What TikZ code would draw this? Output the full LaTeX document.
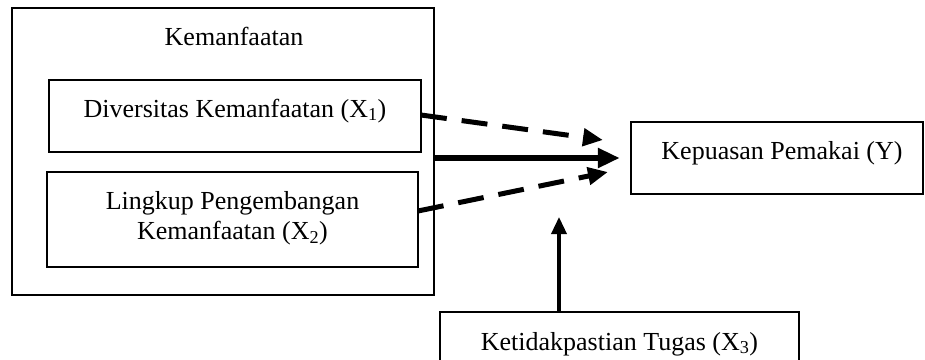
\documentclass[tikz,border=0pt]{standalone}
\usepackage{fontspec}
\setmainfont{Liberation Serif}
\usetikzlibrary{arrows.meta}
\begin{document}
\begin{tikzpicture}[x=1pt,y=-1pt,
  box/.style={draw, line width=2.5pt, inner sep=0pt, align=center, font=\fontsize{26}{30}\selectfont},
  lbl/.style={inner sep=0pt, font=\fontsize{26}{30}\selectfont},
  solidarrow/.style={line width=5.5pt, -{Triangle[length=22pt,width=19pt]}},
  thinarrow/.style={line width=3.5pt, -{Triangle[length=17pt,width=15pt]}},
  dasharrow/.style={line width=5pt, dash pattern=on 26pt off 15pt, -{Triangle[length=20pt,width=17pt]}}
]
\useasboundingbox (0,0) rectangle (925,359);
\clip (0,0) rectangle (925,359);
% nodes
\node[box, minimum width=422pt, minimum height=287pt] (kem) at (223,151.5) {};
\node[lbl] (kemt) at (234,36) {Kemanfaatan};
\node[box, minimum width=372pt, minimum height=72pt] (x1) at (235,116) {Diversitas Kemanfaatan (X\textsubscript{1})\\[-14pt]};
\node[box, minimum width=371pt, minimum height=95pt] (x2) at (232.5,219.5) {Lingkup Pengembangan\\Kemanfaatan (X\textsubscript{2})\\[-22pt]};
\node[box, minimum width=292pt, minimum height=72pt] (y) at (777,158) {\hspace*{10pt}Kepuasan Pemakai (Y)\\[-14pt]};
\node[box, minimum width=359pt, minimum height=96pt, text depth=38pt] (x3) at (619.5,360) {Ketidakpastian Tugas (X\textsubscript{3})};
% free ends
\coordinate (s1) at (421,115);
\coordinate (t1) at (603,140);
\coordinate (s2) at (418,211);
\coordinate (t2) at (608,172);
\coordinate (t3) at (559,217);
% connectors
\draw[dasharrow] (s1) -- (t1);
\draw[dasharrow] (s2) -- (t2);
\draw[solidarrow, shorten >=10pt] (kem.east |- y.west) -- (y.west);
\draw[thinarrow] (x3.north -| t3) -- (t3);
\end{tikzpicture}
\end{document}
